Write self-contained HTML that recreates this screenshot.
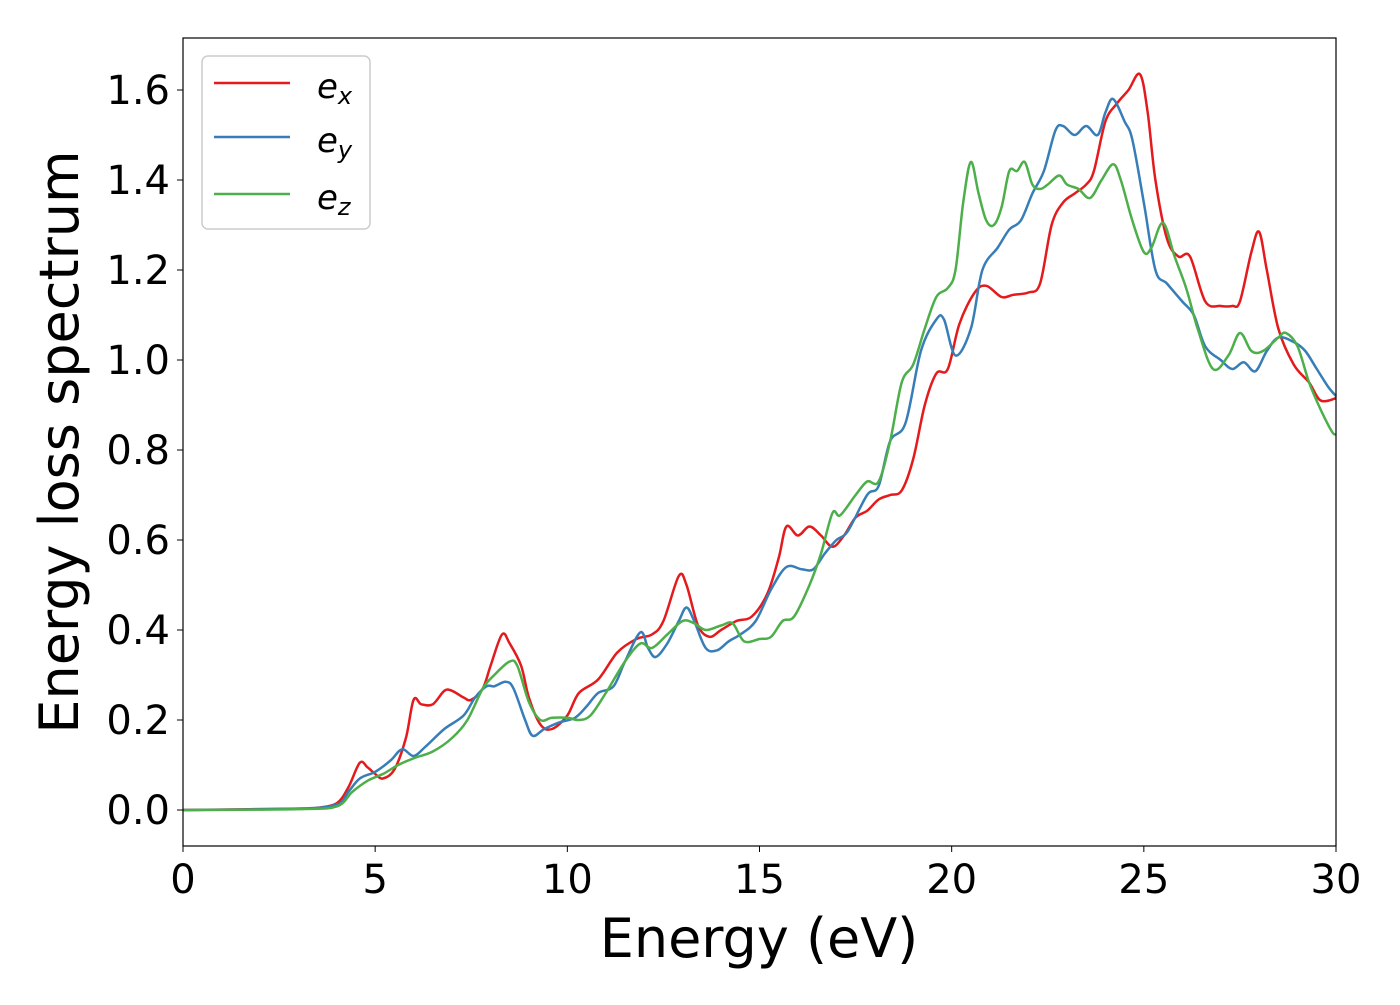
<!DOCTYPE html>
<html><head><meta charset="utf-8"><style>
body{margin:0;background:#fff}
svg text{font-family:"DejaVu Sans","Liberation Sans",sans-serif;fill:#000}
</style></head><body>
<svg id="chart" width="1400" height="1000" xmlns="http://www.w3.org/2000/svg">
<g id="marks"></g>
<rect x="183" y="38" width="1153" height="808" fill="none" stroke="#000" stroke-width="1.2"/>
<g id="ticks"></g>
<text x="759" y="957" font-size="54" text-anchor="middle">Energy (eV)</text>
<text transform="translate(78,442) rotate(-90)" font-size="54" text-anchor="middle">Energy loss spectrum</text>
<g>
<rect x="202" y="56" width="168" height="173" rx="6" fill="#fff" stroke="#ccc" stroke-width="1.5"/>
<g><line x1="214" y1="83" x2="290" y2="83" stroke="#e41a1c" stroke-width="2.5"/><text x="317" y="98" font-size="34" font-style="italic">e<tspan font-size="24" dy="6">x</tspan></text></g>
<g><line x1="214" y1="137" x2="290" y2="137" stroke="#377eb8" stroke-width="2.5"/><text x="317" y="152" font-size="34" font-style="italic">e<tspan font-size="24" dy="6">y</tspan></text></g>
<g><line x1="214" y1="194" x2="290" y2="194" stroke="#4daf4a" stroke-width="2.5"/><text x="317" y="209" font-size="34" font-style="italic">e<tspan font-size="24" dy="6">z</tspan></text></g>
</g>
</svg>
<script>
const xTicks=[0,5,10,15,20,25,30];
const yTicks=[0.0,0.2,0.4,0.6,0.8,1.0,1.2,1.4,1.6];
const exE=[0,3,3.5,4,4.3,4.6,4.8,5,5.2,5.5,5.8,6,6.2,6.5,6.8,7,7.3,7.5,7.8,8,8.3,8.5,8.8,9,9.3,9.6,10,10.3,10.8,11.3,11.8,12.2,12.5,12.9,13.1,13.4,13.7,14,14.4,14.8,15.2,15.5,15.7,16,16.3,16.6,16.9,17.2,17.5,17.8,18.1,18.4,18.7,19,19.3,19.6,19.9,20.2,20.6,20.9,21.3,21.6,22,22.3,22.6,22.9,23.2,23.5,23.7,24,24.3,24.6,24.9,25.1,25.3,25.6,25.9,26.2,26.6,27,27.3,27.5,27.8,28,28.2,28.5,28.9,29.3,29.6,30];
const exV=[0,0.003,0.005,0.015,0.05,0.105,0.095,0.08,0.07,0.09,0.16,0.245,0.235,0.235,0.265,0.265,0.25,0.245,0.27,0.32,0.39,0.37,0.32,0.25,0.19,0.18,0.21,0.26,0.29,0.35,0.38,0.39,0.42,0.52,0.5,0.41,0.385,0.4,0.42,0.43,0.48,0.56,0.63,0.61,0.63,0.61,0.585,0.61,0.65,0.665,0.69,0.7,0.71,0.78,0.9,0.97,0.98,1.08,1.15,1.165,1.14,1.145,1.15,1.17,1.3,1.35,1.37,1.39,1.42,1.53,1.57,1.6,1.635,1.55,1.4,1.27,1.23,1.23,1.13,1.12,1.12,1.13,1.24,1.285,1.2,1.07,0.99,0.95,0.91,0.915];
const eyE=[0,3,4,4.3,4.6,5,5.4,5.7,6,6.3,6.8,7.3,7.6,7.9,8.1,8.4,8.6,8.9,9.1,9.4,9.8,10.2,10.5,10.8,11.2,11.5,11.9,12.1,12.3,12.6,12.9,13.1,13.3,13.6,13.9,14.2,14.5,14.9,15.3,15.7,16.1,16.4,16.7,17,17.3,17.8,18.1,18.4,18.8,19.2,19.6,19.8,20.1,20.5,20.8,21.2,21.5,21.8,22.1,22.4,22.7,22.9,23.2,23.5,23.8,24,24.2,24.5,24.7,25,25.3,25.6,26,26.3,26.6,27,27.3,27.6,27.9,28.2,28.5,28.9,29.2,29.5,29.8,30];
const eyV=[0,0.003,0.012,0.04,0.07,0.085,0.11,0.135,0.12,0.14,0.18,0.21,0.25,0.275,0.275,0.285,0.27,0.2,0.165,0.18,0.195,0.205,0.23,0.26,0.275,0.33,0.395,0.36,0.34,0.37,0.42,0.45,0.42,0.36,0.355,0.375,0.39,0.42,0.49,0.54,0.535,0.535,0.57,0.6,0.62,0.7,0.72,0.82,0.86,1.02,1.09,1.09,1.01,1.07,1.2,1.25,1.29,1.31,1.37,1.42,1.51,1.52,1.5,1.52,1.5,1.55,1.58,1.53,1.49,1.35,1.2,1.17,1.13,1.1,1.03,1.0,0.98,0.995,0.975,1.02,1.05,1.04,1.02,0.98,0.94,0.92];
const ezE=[0,3,4,4.4,4.8,5.2,5.6,6,6.5,7,7.4,7.8,8.1,8.5,8.7,9,9.3,9.6,10,10.3,10.6,11,11.5,11.9,12.2,12.6,13,13.3,13.6,14,14.3,14.6,15,15.3,15.6,15.9,16.3,16.6,16.9,17.1,17.5,17.8,18.1,18.4,18.7,19,19.3,19.6,19.9,20.1,20.3,20.5,20.7,20.9,21.1,21.3,21.5,21.7,21.9,22.1,22.3,22.5,22.8,23,23.3,23.6,23.9,24.2,24.4,24.7,25,25.2,25.5,25.8,26.1,26.4,26.8,27.2,27.5,27.8,28.1,28.5,28.7,29,29.3,29.6,29.9,30];
const ezV=[0,0.002,0.008,0.04,0.065,0.08,0.1,0.115,0.13,0.16,0.2,0.27,0.3,0.33,0.32,0.24,0.2,0.205,0.205,0.2,0.21,0.26,0.33,0.37,0.36,0.39,0.42,0.415,0.4,0.41,0.415,0.375,0.38,0.385,0.42,0.43,0.5,0.57,0.66,0.655,0.7,0.73,0.73,0.82,0.95,0.99,1.07,1.14,1.16,1.2,1.35,1.44,1.37,1.31,1.3,1.34,1.42,1.42,1.44,1.39,1.38,1.39,1.41,1.39,1.38,1.36,1.4,1.435,1.4,1.31,1.24,1.25,1.305,1.23,1.16,1.07,0.98,1.01,1.06,1.02,1.02,1.05,1.06,1.03,0.95,0.89,0.84,0.835];

const X0=183,X1=1336,Y0=810,Y16=90;
const xs=v=>X0+(v/30)*(X1-X0);
const ys=v=>Y0+(v/1.6)*(Y16-Y0);
const NS='http://www.w3.org/2000/svg';
const marks=document.getElementById('marks');
const ticks=document.getElementById('ticks');
function smoothPath(E,V){
  const p=E.map((e,i)=>[xs(e),ys(V[i])]);
  let d='M'+p[0][0].toFixed(1)+','+p[0][1].toFixed(1);
  for(let i=0;i<p.length-1;i++){
    const a=p[Math.max(i-1,0)],b=p[i],c=p[i+1],n=p[Math.min(i+2,p.length-1)];
    const c1=[b[0]+(c[0]-a[0])/6,b[1]+(c[1]-a[1])/6];
    const c2=[c[0]-(n[0]-b[0])/6,c[1]-(n[1]-b[1])/6];
    d+=' C'+c1[0].toFixed(1)+','+c1[1].toFixed(1)+' '+c2[0].toFixed(1)+','+c2[1].toFixed(1)+' '+c[0].toFixed(1)+','+c[1].toFixed(1);
  }
  return d;
}
[[exE,exV,'#e41a1c','series-ex'],[eyE,eyV,'#377eb8','series-ey'],[ezE,ezV,'#4daf4a','series-ez']].forEach(s=>{
  const path=document.createElementNS(NS,'path');
  path.setAttribute('d',smoothPath(s[0],s[1]));
  path.setAttribute('fill','none');
  path.setAttribute('stroke',s[2]);
  path.setAttribute('stroke-width','2.5');
  
  
  marks.appendChild(path);
});
xTicks.forEach(t=>{
  const l=document.createElementNS(NS,'line');
  l.setAttribute('x1',xs(t));l.setAttribute('x2',xs(t));l.setAttribute('y1',846);l.setAttribute('y2',852);l.setAttribute('stroke','#000');
  
  
  ticks.appendChild(l);
  const tx=document.createElementNS(NS,'text');
  tx.setAttribute('x',xs(t));tx.setAttribute('y',893);tx.setAttribute('font-size','40');tx.setAttribute('text-anchor','middle');
  tx.textContent=t;
  
  
  ticks.appendChild(tx);
});
yTicks.forEach(t=>{
  const l=document.createElementNS(NS,'line');
  l.setAttribute('x1',177);l.setAttribute('x2',183);l.setAttribute('y1',ys(t));l.setAttribute('y2',ys(t));l.setAttribute('stroke','#000');
  
  
  ticks.appendChild(l);
  const tx=document.createElementNS(NS,'text');
  tx.setAttribute('x',170);tx.setAttribute('y',ys(t)+14);tx.setAttribute('font-size','40');tx.setAttribute('text-anchor','end');
  tx.textContent=t.toFixed(1);
  
  
  ticks.appendChild(tx);
});
</script>
</body></html>
